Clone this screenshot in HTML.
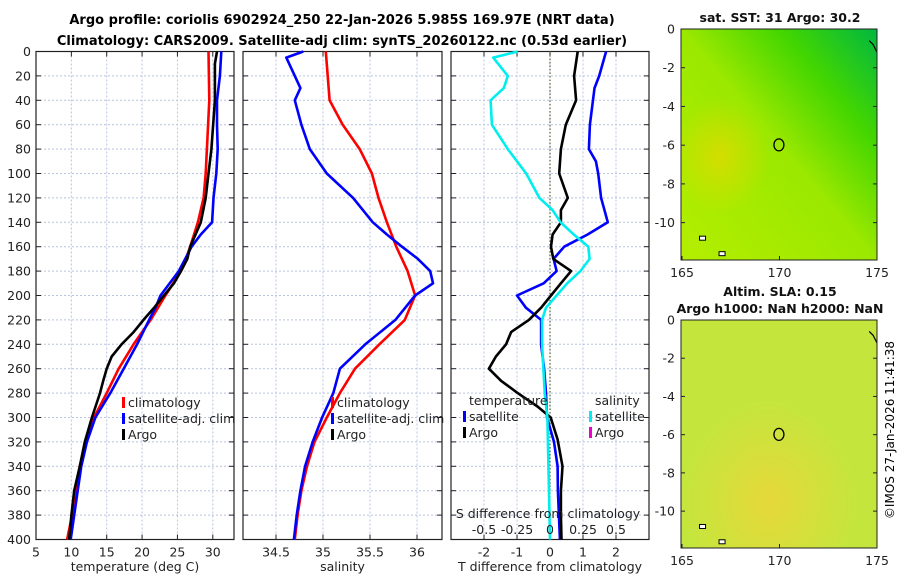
<!DOCTYPE html>
<html><head><meta charset="utf-8">
<style>
html,body{margin:0;padding:0;background:#fff;}
svg{display:block;font-family:"DejaVu Sans","Liberation Sans",sans-serif;}
</style></head>
<body>
<svg id="c" width="900" height="580" xmlns="http://www.w3.org/2000/svg">
<defs>
<linearGradient id="sstg" x1="0" y1="1" x2="1" y2="0">
<stop offset="0" stop-color="#b4ee00"/><stop offset="0.5" stop-color="#9be800"/><stop offset="0.75" stop-color="#44d600"/><stop offset="1" stop-color="#00b840"/>
</linearGradient>
<radialGradient id="warm" cx="0.2" cy="0.55" r="0.25"><stop offset="0" stop-color="#e8d800" stop-opacity="0.7"/><stop offset="1" stop-color="#e8d800" stop-opacity="0"/></radialGradient>
<radialGradient id="slag" cx="0.45" cy="0.8" r="0.45"><stop offset="0" stop-color="#e6d83a"/><stop offset="1" stop-color="#c4e63c"/></radialGradient>
</defs>
<g id="titles">
<text x="342" y="24" text-anchor="middle" font-size="13" font-weight="bold">Argo profile: coriolis 6902924_250 22-Jan-2026 5.985S 169.97E (NRT data)</text>
<text x="342" y="45" text-anchor="middle" font-size="13" font-weight="bold">Climatology: CARS2009. Satellite-adj clim: synTS_20260122.nc (0.53d earlier)</text>
</g>
<g id="p1"></g><g id="p2"></g><g id="p3"></g><g id="maps"></g>
<text transform="translate(894,430) rotate(-90)" text-anchor="middle" font-size="12">©IMOS 27-Jan-2026 11:41:38</text>
</svg>
<script>
// ---- data ----
const tClimDepth=[0,40,100,120,140,160,170,180,200,220,240,260,280,300,320,340,360,380,400];
const tClim=[29.4,29.5,29.0,28.7,27.9,26.8,26.2,25.5,23.3,21.2,18.8,16.7,15.0,13.2,12.0,11.2,10.6,10.1,9.4];
const tSatDepth=[0,20,40,60,80,100,120,140,150,160,180,200,210,220,240,260,280,300,320,340,360,380,400];
const tSat=[31.2,31.0,30.6,30.6,30.7,30.5,30.1,29.9,28.3,27.0,25.2,22.6,21.9,21.0,19.3,17.4,15.5,13.4,12.2,11.4,10.9,10.4,9.9];
const tArgoDepth=[0,10,40,80,100,120,140,160,170,180,190,200,210,220,230,240,250,260,270,280,300,320,340,360,380,400];
const tArgo=[30.6,30.3,30.3,29.8,29.4,29.0,28.3,26.8,26.4,25.5,24.5,23.1,21.7,20.2,18.8,17.1,15.7,15.0,14.5,14.05,12.9,11.9,11.2,10.4,10.0,9.7];
const sClimDepth=[0,20,40,60,80,100,120,140,160,180,200,220,240,260,280,300,320,340,360,380,400];
const sClim=[35.03,35.05,35.07,35.21,35.39,35.52,35.59,35.68,35.78,35.90,35.98,35.87,35.60,35.34,35.18,35.04,34.91,34.83,34.77,34.73,34.70];
const sSatDepth=[0,5,20,30,40,60,80,100,120,140,150,160,170,180,190,200,220,240,260,280,300,320,340,360,380,400];
const sSat=[34.79,34.61,34.70,34.76,34.70,34.77,34.86,35.04,35.32,35.53,35.68,35.84,36.01,36.14,36.17,35.98,35.77,35.45,35.18,35.11,34.99,34.89,34.81,34.76,34.72,34.69];
const dTSatDepth=[0,20,30,60,80,90,100,120,140,150,160,170,180,190,200,210,220,240,260,280,300,320,340,360,380,400];
const dTSat=[1.70,1.49,1.35,1.21,1.18,1.39,1.46,1.55,1.75,1.14,0.43,0.11,0.2,-0.19,-1.0,-0.73,-0.27,-0.27,-0.18,-0.12,-0.09,0.12,0.23,0.24,0.27,0.30];
const dTArgoDepth=[0,20,40,60,80,100,120,130,140,150,160,170,180,190,200,210,220,230,240,250,260,270,280,291,300,318,340,360,380,400];
const dTArgo=[0.84,0.73,0.79,0.48,0.33,0.28,0.54,0.33,0.33,0.08,0.03,0.1,0.64,0.33,0.03,-0.27,-0.64,-1.18,-1.33,-1.64,-1.85,-1.48,-0.98,-0.38,0.02,0.23,0.38,0.33,0.33,0.35];
const dSSatDepth=[0,5,20,30,40,60,80,100,120,130,140,150,160,170,180,190,200,210,220,240,260,280,300,400];
const dSSat=[-0.245,-0.43,-0.32,-0.35,-0.45,-0.44,-0.32,-0.18,-0.08,0.02,0.08,0.18,0.29,0.30,0.23,0.13,0.05,-0.03,-0.06,-0.06,-0.05,-0.04,-0.02,0.0];
const depthTicks=[0,20,40,60,80,100,120,140,160,180,200,220,240,260,280,300,320,340,360,380,400];
const tTicks=[5,10,15,20,25,30];
const sTicks=[34.5,35,35.5,36];
const dTTicks=[-2,-1,0,1,2];
const dSTicks=[-0.5,-0.25,0,0.25,0.5];
const lonTicks=[165,170,175];
const latTicks=[0,-2,-4,-6,-8,-10];

const NS="http://www.w3.org/2000/svg";
function el(tag,attrs,parent,txt){const e=document.createElementNS(NS,tag);for(const k in attrs)e.setAttribute(k,attrs[k]);if(txt!==undefined)e.textContent=txt;parent.appendChild(e);return e;}
const Y0=51.5,Y1=539.5;
const yD=d=>Y0+(Y1-Y0)*d/400;

function panel(g,x0,x1,vmin,vmax,gridVals,tickVals,tickFmt,xlabel,showY){
  const xs=v=>x0+(x1-x0)*(v-vmin)/(vmax-vmin);
  gridVals.forEach(v=>{const l=el('line',{x1:xs(v),x2:xs(v),y1:Y0,y2:Y1,stroke:'#b8c4e0','stroke-dasharray':'2,2','stroke-width':1},g);
    });
  depthTicks.forEach(d=>{const l=el('line',{x1:x0,x2:x1,y1:yD(d),y2:yD(d),stroke:'#b8c4e0','stroke-dasharray':'2,2','stroke-width':1},g);
    
    el('line',{x1:x0,x2:x0+5,y1:yD(d),y2:yD(d),stroke:'#222'},g);
    el('line',{x1:x1-5,x2:x1,y1:yD(d),y2:yD(d),stroke:'#222'},g);
    if(showY){const t=el('text',{x:x0-5,y:yD(d)+4.5,'text-anchor':'end','font-size':12.5,fill:'#222'},g,String(d));
      }
  });
  tickVals.forEach(v=>{el('line',{x1:xs(v),x2:xs(v),y1:Y1,y2:Y1-5,stroke:'#222'},g);el('line',{x1:xs(v),x2:xs(v),y1:Y0,y2:Y0+5,stroke:'#222'},g);
    const t=el('text',{x:xs(v),y:Y1+17,'text-anchor':'middle','font-size':12.5,fill:'#222'},g,tickFmt(v));
    });
  const xl=el('text',{x:(x0+x1)/2,y:571,'text-anchor':'middle','font-size':12.5,fill:'#222'},g,xlabel);
  
  const b=el('rect',{x:x0,y:Y0,width:x1-x0,height:Y1-Y0,fill:'none',stroke:'#222','stroke-width':1.2},g);
  
  return xs;
}
function line(g,xs,vals,depths,color,name){
  const pts=vals.map((v,i)=>xs(v).toFixed(1)+','+yD(depths[i]).toFixed(1)).join(' ');
  const p=el('polyline',{points:pts,fill:'none',stroke:color,'stroke-width':2.6,'stroke-linejoin':'round'},g);
  
}
function legend(g,x,y,items){
  items.forEach((it,i)=>{const yy=y+i*16;
    if(it[0])el('rect',{x:x,y:yy-10,width:3,height:11,fill:it[0]},g);
    const t=el('text',{x:x+6,y:yy,'font-size':12.5,fill:'#222'},g,it[1]);
    });
}
const fmt=v=>String(v);
// panel 1
const g1=document.getElementById('p1');
const x1=panel(g1,36,234,5,33,[10,15,20,25,30],tTicks,fmt,'temperature (deg C)',true);
line(g1,x1,tClim,tClimDepth,'#ff0000','temp-climatology-line');
line(g1,x1,tSat,tSatDepth,'#0000ff','temp-satellite-adj-line');
line(g1,x1,tArgo,tArgoDepth,'#000000','temp-argo-line');
legend(g1,122,407,[['#ff0000','climatology'],['#0000ff','satellite-adj. clim'],['#000','Argo']]);
// panel 2
const g2=document.getElementById('p2');
const x2=panel(g2,243,442,34.149,36.266,sTicks,sTicks,fmt,'salinity',false);
line(g2,x2,sClim,sClimDepth,'#ff0000','sal-climatology-line');
line(g2,x2,sSat,sSatDepth,'#0000ff','sal-satellite-adj-line');
legend(g2,331,407,[['#ff0000','climatology'],['#0000ff','satellite-adj. clim'],['#000','Argo']]);
// panel 3
const g3=document.getElementById('p3');
const x3=panel(g3,451,649,-3,3,dTTicks,dTTicks,fmt,'T difference from climatology',false);
const xS=v=>x3(v*4);
const z=el('line',{x1:x3(0),x2:x3(0),y1:Y0,y2:Y1,stroke:'#556633','stroke-dasharray':'1.5,2','stroke-width':1.2},g3);

line(g3,x3,dTSat,dTSatDepth,'#0000ff','tdiff-satellite-line');
line(g3,x3,dTArgo,dTArgoDepth,'#000000','tdiff-argo-line');
line(g3,xS,dSSat,dSSatDepth,'#00eeee','sdiff-satellite-line');
legend(g3,463,405,[[null,'temperature'],['#0000ff','satellite'],['#000','Argo']]);
legend(g3,589,405,[[null,'salinity'],['#00eeee','satellite'],['#ee00cc','Argo']]);
const st=el('text',{x:548,y:518,'text-anchor':'middle','font-size':12.5,fill:'#222'},g3,'S difference from climatology');

dSTicks.forEach(v=>{const t=el('text',{x:xS(v),y:534,'text-anchor':'middle','font-size':12.5,fill:'#222'},g3,String(v).replace('-','-'));
  });
// maps
const gm=document.getElementById('maps');
function map(top,bot,fillId,overlay,title,name){
  const mx0=681,mx1=877;
  const g=el('g',{},gm);
  const lx=v=>682+(v-165)*19.5, ly=v=>top+(bot-top)*(-v)/11.93;
  el('rect',{x:mx0,y:top,width:mx1-mx0,height:bot-top,fill:'url(#'+fillId+')'},g);
  if(overlay)el('rect',{x:mx0,y:top,width:mx1-mx0,height:bot-top,fill:'url(#'+overlay+')'},g);
  // coast fragments
  el('polyline',{points:`${lx(174.6)},${ly(-0.6)} ${lx(174.8)},${ly(-0.8)} ${lx(175)},${ly(-1.2)}`,fill:'none',stroke:'#000','stroke-width':1.2},g);
  el('rect',{x:lx(165.9),y:ly(-10.7),width:6,height:4,fill:'#fff',stroke:'#000'},g);
  el('rect',{x:lx(166.9),y:ly(-11.5),width:6,height:4,fill:'#fff',stroke:'#000'},g);
  const c=el('ellipse',{cx:lx(169.97),cy:ly(-5.985),rx:5,ry:6,fill:'none',stroke:'#000','stroke-width':1.3},g);
  
  el('rect',{x:mx0,y:top,width:mx1-mx0,height:bot-top,fill:'none',stroke:'#222'},g);
  lonTicks.forEach(v=>{el('line',{x1:lx(v),x2:lx(v),y1:bot,y2:bot-4,stroke:'#222'},g);
    const t=el('text',{x:lx(v),y:bot+17,'text-anchor':'middle','font-size':12.5,fill:'#222'},g,String(v));
    });
  latTicks.forEach(v=>{el('line',{x1:mx0,x2:mx0+4,y1:ly(v),y2:ly(v),stroke:'#222'},g);el('line',{x1:mx1-4,x2:mx1,y1:ly(v),y2:ly(v),stroke:'#222'},g);
    const t=el('text',{x:mx0-6,y:ly(v)+4.5,'text-anchor':'end','font-size':12.5,fill:'#222'},g,String(v));
    });
  title.forEach((s,i)=>{const t=el('text',{x:780,y:top-(title.length-1-i)*17-7,'text-anchor':'middle','font-size':12.5,'font-weight':'bold',fill:'#111'},g,s);
    });
}
map(29,260,'sstg','warm',['sat. SST: 31 Argo: 30.2'],'sst-map');
map(320,548,'slag',null,['Altim. SLA: 0.15','Argo h1000: NaN h2000: NaN'],'sla-map');
</script>
</body></html>
